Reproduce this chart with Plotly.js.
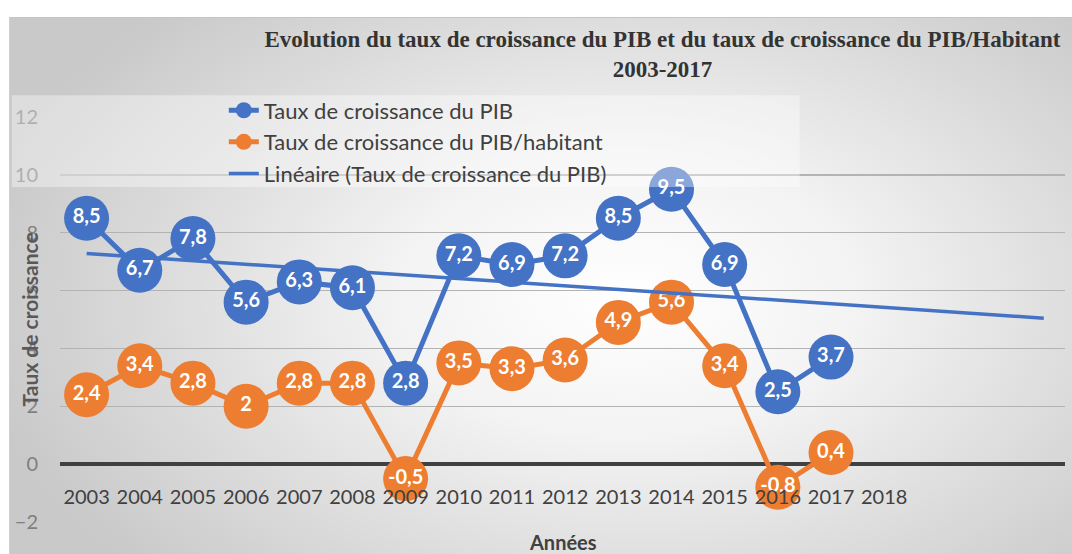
<!DOCTYPE html>
<html>
<head>
<meta charset="utf-8">
<script src="https://cdn.plot.ly/plotly-3.0.1.min.js"></script>
<style>
  html, body { margin: 0; padding: 0; background: #ffffff; }
  #wrap { position: relative; width: 1072px; height: 554px; overflow: hidden; }
  #bg { position: absolute; left: 9px; top: 17px; width: 1063px; height: 537px;
        border-top: 1px solid #c4c4c4; border-left: 1px solid #d0d0d0;
        background: radial-gradient(ellipse 62% 75% at 58% 52%, #ffffff 0%, #f3f3f3 35%, #dcdcdc 70%, #c9c9c9 100%); }
  #chart { position: absolute; left: 0; top: 0; width: 1072px; height: 554px; }
</style>
</head>
<body>
<div id="wrap">
  <div id="bg"></div>
  <div id="chart"></div>
</div>
<script>
// ---- Data ----
const years = [2003, 2004, 2005, 2006, 2007, 2008, 2009, 2010, 2011, 2012, 2013, 2014, 2015, 2016, 2017];
const pibGrowth = [8.5, 6.7, 7.8, 5.6, 6.3, 6.1, 2.8, 7.2, 6.9, 7.2, 8.5, 9.5, 6.9, 2.5, 3.7];
const pibPerCapitaGrowth = [2.4, 3.4, 2.8, 2, 2.8, 2.8, -0.5, 3.5, 3.3, 3.6, 4.9, 5.6, 3.4, -0.8, 0.4];
const xTickYears = [2003, 2004, 2005, 2006, 2007, 2008, 2009, 2010, 2011, 2012, 2013, 2014, 2015, 2016, 2017, 2018];
const xTickLabels = ['2003', '2004', '2005', '2006', '2007', '2008', '2009', '2010', '2011', '2012', '2013', '2014', '2015', '2016', '2017', '2018'];
const yTickValues = [-2, 0, 2, 4, 6, 8, 10, 12];
const seriesNames = ['Taux de croissance du PIB', 'Taux de croissance du PIB/habitant', 'Linéaire (Taux de croissance du PIB)'];
const trendForwardPeriods = 4;

// ---- Linear trendline (least squares, like Excel) ----
function linearFit(xs, ys) {
  const n = xs.length;
  const mx = xs.reduce((a, b) => a + b, 0) / n;
  const my = ys.reduce((a, b) => a + b, 0) / n;
  let sxy = 0, sxx = 0;
  for (let i = 0; i < n; i++) { sxy += (xs[i] - mx) * (ys[i] - my); sxx += (xs[i] - mx) * (xs[i] - mx); }
  const slope = sxy / sxx;
  return { slope, intercept: my - slope * mx };
}
const fit = linearFit(years, pibGrowth);
const trendX = [years[0], years[years.length - 1] + trendForwardPeriods];
const trendY = trendX.map(x => fit.intercept + fit.slope * x);

const fmt = v => String(v).replace('.', ',');

const BLUE = '#4472C4';
const ORANGE = '#ED7D31';
const FONT = 'Lato, "Open Sans", sans-serif';

const traces = [
  {
    x: years, y: pibGrowth, name: seriesNames[0], type: 'scatter', mode: 'lines+markers+text',
    line: { color: BLUE, width: 5 },
    marker: { color: BLUE, size: 45 },
    text: pibGrowth.map(fmt), textposition: 'middle center',
    textfont: { color: '#ffffff', size: 20, family: FONT, weight: 'bold' },
    legendgroup: 'a', cliponaxis: false
  },
  {
    x: years, y: pibPerCapitaGrowth, name: seriesNames[1], type: 'scatter', mode: 'lines+markers+text',
    line: { color: ORANGE, width: 5 },
    marker: { color: ORANGE, size: 45 },
    text: pibPerCapitaGrowth.map(fmt), textposition: 'middle center',
    textfont: { color: '#ffffff', size: 20, family: FONT, weight: 'bold' },
    legendgroup: 'b', cliponaxis: false
  },
  {
    x: trendX, y: trendY, name: seriesNames[2], type: 'scatter', mode: 'lines',
    line: { color: BLUE, width: 3.5 },
    legendgroup: 'c', hoverinfo: 'skip'
  }
];

const layout = {
  width: 1072, height: 554,
  margin: { l: 60, r: 7, t: 117, b: 32 },
  paper_bgcolor: 'rgba(0,0,0,0)',
  plot_bgcolor: 'rgba(0,0,0,0)',
  font: { family: FONT, color: '#595959' },
  showlegend: true,
  title: {
    text: 'Evolution du taux de croissance du PIB et du taux de croissance du PIB/Habitant<br>2003-2017',
    font: { family: '"Liberation Serif", "Times New Roman", serif', size: 23, color: '#333333', weight: 'bold' },
    xref: 'container', x: 0.618, xanchor: 'center',
    yref: 'container', y: 0.915, yanchor: 'top'
  },
  legend: {
    x: 0.163, xanchor: 'left', y: 1.068, yanchor: 'top',
    bgcolor: 'rgba(0,0,0,0)',
    font: { size: 22, color: '#404040', family: FONT },
    traceorder: 'grouped', tracegroupgap: 0
  },
  xaxis: {
    range: [2002.5, 2021.4],
    anchor: 'free', position: 2 / 14,
    tickmode: 'array', tickvals: xTickYears, ticktext: xTickLabels,
    showgrid: false, zeroline: false, showline: false, ticks: '',
    tickfont: { size: 20, color: '#404040', family: FONT },
    ticklabelstandoff: 19,
    layer: 'above traces'
  },
  yaxis: {
    range: [-2, 12],
    tickmode: 'array', tickvals: yTickValues,
    showgrid: true, gridcolor: '#b3b3b3', gridwidth: 1.5,
    zeroline: true, zerolinecolor: '#404040', zerolinewidth: 3.5,
    ticks: '', showline: false,
    tickfont: { size: 20, color: '#7f7f7f', family: FONT },
    ticklabelstandoff: 21
  },
  shapes: [
    { type: 'rect', xref: 'paper', yref: 'paper', layer: 'above',
      x0: -0.048, x1: 0.736, y0: 0.827, y1: 1.054,
      fillcolor: 'rgba(255,255,255,0.38)', line: { width: 0 } }
  ],
  annotations: [
    { text: 'Taux de croissance', xref: 'paper', yref: 'paper', x: 0, y: 0.5,
      xshift: -31, textangle: -90, showarrow: false, xanchor: 'center', yanchor: 'middle',
      font: { size: 21, color: '#595959', family: FONT, weight: 'bold' } },
    { text: 'Années', xref: 'paper', yref: 'paper', x: 0.5, y: 0,
      yshift: -20, showarrow: false, xanchor: 'center', yanchor: 'middle',
      font: { size: 20, color: '#404040', family: FONT, weight: 'bold' } }
  ]
};

Plotly.newPlot('chart', traces, layout, { displayModeBar: false, staticPlot: true });
</script>
</body>
</html>
